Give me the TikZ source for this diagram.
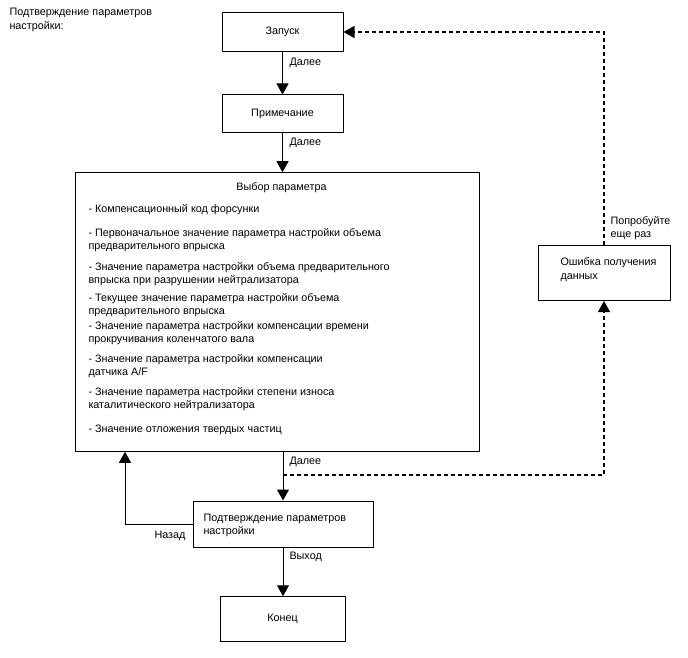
\documentclass[tikz,border=0pt]{standalone}
\usepackage{fontspec}
\setmainfont{Liberation Sans}
\usetikzlibrary{arrows.meta}
\begin{document}
\begin{tikzpicture}[x=1pt,y=-1pt,>={Triangle[length=11pt,width=12pt]},line width=1pt,
  font=\fontsize{10.8}{13.5}\selectfont,
  box/.style={draw,line width=1pt,inner sep=0pt,align=center},
  txt/.style={inner sep=0pt,anchor=base west},
  retry/.style={dashed,dash pattern=on 4pt off 3pt,line width=1.2pt}]
\useasboundingbox (0,0) rectangle (688,658);
\node[txt] (title1) at (9,16) {Подтверждение параметров};
\node[txt] (title2) at (9,29.5) {настройки:};
\node[box,minimum width=121pt,minimum height=39pt] (start) at (282.5,32) {Запуск};
\node[box,minimum width=121pt,minimum height=38pt] (note) at (282.5,114) {Примечание};
\node[box,minimum width=404pt,minimum height=278.5pt] (select) at (277,312) {};
\node[box,minimum width=180pt,minimum height=46pt] (confirm) at (283,524) {};
\node[box,minimum width=125pt,minimum height=44.5pt] (finish) at (282.5,619) {Конец};
\node[box,minimum width=132pt,minimum height=55pt] (error) at (604,273) {};
\node[txt,anchor=base] (seltitle) at (281.5,190) {Выбор параметра};
\foreach \y/\t [count=\i] in {212/{- Компенсационный код форсунки},
    236/{- Первоначальное значение параметра настройки объема},
    249.5/{предварительного впрыска},
    270/{- Значение параметра настройки объема предварительного},
    283.5/{впрыска при разрушении нейтрализатора},
    301/{- Текущее значение параметра настройки объема},
    314.5/{предварительного впрыска},
    329/{- Значение параметра настройки компенсации времени},
    342.5/{прокручивания коленчатого вала},
    362/{- Значение параметра настройки компенсации},
    375.5/{датчика A/F},
    395/{- Значение параметра настройки степени износа},
    408.5/{каталитического нейтрализатора},
    432/{- Значение отложения твердых частиц}}
  \node[txt] (item\i) at (88,\y) {\t};
\node[txt] (conf1) at (203,521) {Подтверждение параметров};
\node[txt] (conf2) at (203,534.5) {настройки};
\node[txt] (err1) at (560,265.5) {Ошибка получения};
\node[txt] (err2) at (560,279) {данных};
\draw[->] (start) -- (note);
\draw[->] (note) -- (note |- select.north);
\draw[->] (confirm.north |- select.south) -- (confirm);
\draw[->] (confirm.south) -- (confirm.south |- finish.north);
\coordinate (backturn) at (125,524);
\draw[->] (confirm.west) -- (backturn) -- (backturn |- select.south);
\coordinate (split) at (283,475);
\draw[retry,->] (split) -| (error.south);
\draw[retry,->] (error.north) |- (start.east);
\node[txt] (next1) at (289,65.5) {Далее};
\node[txt] (next2) at (289,146) {Далее};
\node[txt] (next3) at (289,464) {Далее};
\node[txt] (exit) at (289,559) {Выход};
\node[txt,anchor=base east] (back) at (186,538) {Назад};
\node[txt] (retry1) at (610,224) {Попробуйте};
\node[txt] (retry2) at (610,237.5) {еще раз};
\end{tikzpicture}
\end{document}
